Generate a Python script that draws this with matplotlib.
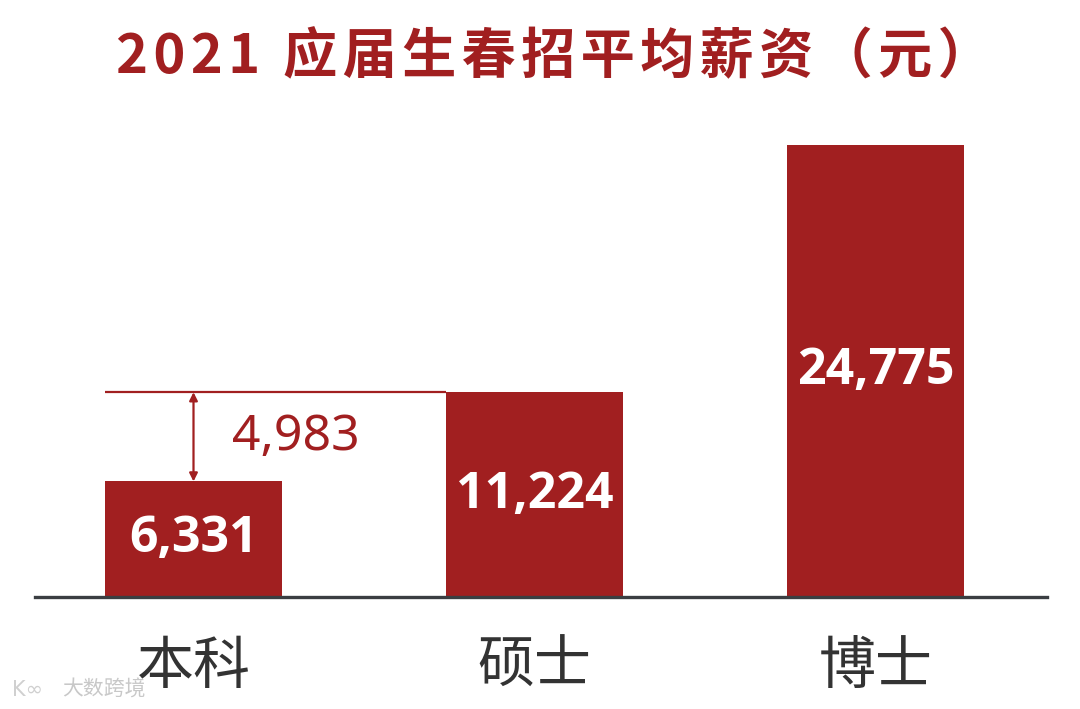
import matplotlib
matplotlib.use("Agg")
import matplotlib.pyplot as plt
import matplotlib.transforms as mtransforms

plt.rcParams['font.family'] = ['Noto Sans CJK SC', 'DejaVu Sans']

categories = ["本科", "硕士", "博士"]
values = [6331, 11224, 24775]
value_labels = ["6,331", "11,224", "24,775"]
diff_label = "4,983"
title = "2021 应届生春招平均薪资（元）"
watermark = "大数跨境"

RED = "#A11F20"
W, H = 1080, 709
fig = plt.figure(figsize=(W / 100, H / 100), dpi=100)
fig.patch.set_facecolor("white")

ax = fig.add_axes([35 / W, 112 / H, 1012 / W, 452 / H])
x = list(range(len(categories)))
bw = 177 / 341
ax.bar(x, values, width=bw, color=RED, zorder=2)
ax.set_xlim(-(193.5 - 35) / 341, 2 + (1047 - 875.5) / 341)
ax.set_ylim(0, max(values))
ax.set_facecolor("none")
for s in ["top", "right", "left"]:
    ax.spines[s].set_visible(False)
ax.spines["bottom"].set_color("#3b3e42")
ax.spines["bottom"].set_linewidth(2.4)
ax.spines["bottom"].set_zorder(3)
ax.set_xticks([])
ax.set_yticks([])

for xi, v, lab in zip(x, values, value_labels):
    ax.text(xi, v / 2, lab, ha="center", va="center", color="white",
            fontsize=36, fontweight="bold", family=["Open Sans", "DejaVu Sans"],
            zorder=4)

trans = mtransforms.blended_transform_factory(ax.transData, fig.transFigure)
for xi, c in zip(x, categories):
    ax.text(xi, 1 - 667 / H, c, ha="center", va="center", color="#333333",
            fontsize=41, transform=trans)

# difference annotation
ax.plot([x[0] - bw / 2, x[1] - bw / 2], [values[1], values[1]], color=RED, lw=1.6,
        zorder=3, solid_capstyle="butt")
ax.annotate("", xy=(x[0], values[1]), xytext=(x[0], values[0]),
            arrowprops=dict(arrowstyle="<|-|>", color=RED, lw=1.6,
                            mutation_scale=12, shrinkA=0, shrinkB=0), zorder=3)
ax.text(x[0] + (232 - 193.5) / 341, (values[0] + values[1]) / 2, diff_label,
        ha="left", va="center", color=RED, fontsize=36,
        family=["Noto Sans", "DejaVu Sans"], zorder=4)

spaced_title = "\u200a".join(title)
fig.text(554 / W, 1 - 58 / H, spaced_title, ha="center", va="center", color=RED,
         fontsize=39, fontweight="bold")

fig.text(62 / W, 1 - 690 / H, watermark, ha="left", va="center", color="#c8c8c8",
         fontsize=15)
fig.text(12 / W, 1 - 690 / H, "K∞", ha="left", va="center", color="#d0d0d0",
         fontsize=15, family=["DejaVu Sans"])

fig.savefig("out.png", dpi=100, facecolor="white")
